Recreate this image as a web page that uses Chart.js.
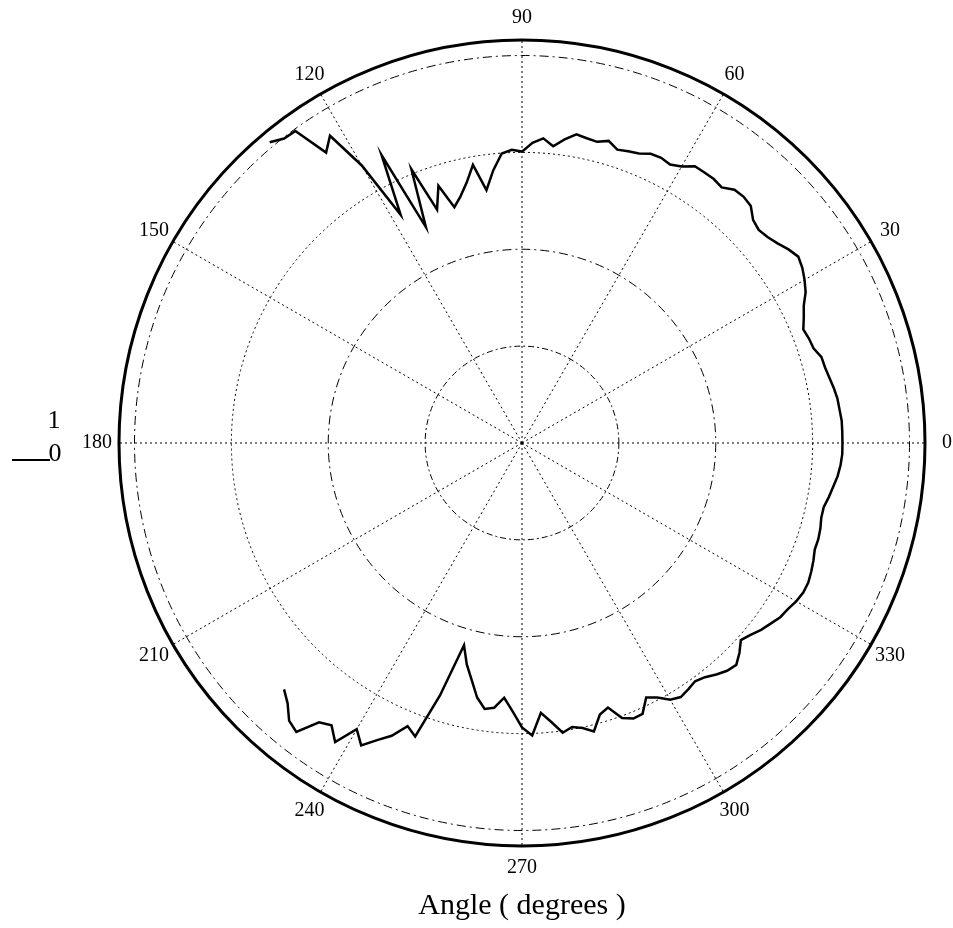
<!DOCTYPE html>
<html>
<head>
<meta charset="utf-8">
<script src="https://cdn.jsdelivr.net/npm/chart.js@4"></script>
<style>
  body { margin: 0; background: #fff; }
</style>
</head>
<body>
<canvas id="polar-chart" width="953" height="928"></canvas>
<script>
// polar response, radius normalised so the 4th ring = 1
const step = 2;
const angleTicks = [0, 30, 60, 90, 120, 150, 180, 210, 240, 270, 300, 330];
const ringValues = [0, 0.25, 0.5, 0.75, 1, 1.04];

// 0 .. 130 deg
const upperArc = [
    0.827, 0.827, 0.827, 0.824, 0.822, 0.817, 0.811, 0.806, 0.804, 0.791,
    0.788, 0.783, 0.796, 0.809, 0.829, 0.842, 0.853, 0.860, 0.850, 0.837,
    0.827, 0.822, 0.829, 0.850, 0.855, 0.853, 0.837, 0.842, 0.842, 0.842,
    0.824, 0.814, 0.819, 0.817, 0.806, 0.801, 0.796, 0.811, 0.801, 0.804,
    0.809, 0.791, 0.770, 0.788, 0.775, 0.752, 0.757, 0.749, 0.708, 0.659,
    0.729, 0.687, 0.656, 0.633, 0.698, 0.641, 0.762, 0.610, 0.827, 0.667,
    0.827, 0.935, 0.904, 0.995, 0.997, 1.013
];
const upperStart = 0;

// 226 .. 358 deg
const lowerArc = [
    0.884, 0.904, 0.935, 0.946, 0.891, 0.879, 0.910, 0.853, 0.884, 0.853,
    0.827, 0.788, 0.806, 0.685, 0.543, 0.589, 0.625, 0.667, 0.693, 0.687,
    0.659, 0.693, 0.734, 0.755, 0.698, 0.724, 0.755, 0.744, 0.752, 0.767,
    0.729, 0.718, 0.755, 0.767, 0.765, 0.731, 0.744, 0.765, 0.773, 0.767,
    0.760, 0.767, 0.780, 0.791, 0.796, 0.780, 0.760, 0.770, 0.783, 0.793,
    0.804, 0.809, 0.817, 0.822, 0.822, 0.817, 0.811, 0.804, 0.804, 0.801,
    0.796, 0.796, 0.804, 0.811, 0.819, 0.824, 0.827
];
const lowerStart = 226;

function radiusAt(deg) {
    const i = (deg - upperStart) / step;
    if (i >= 0 && i < upperArc.length) return upperArc[i];
    const j = (deg - lowerStart) / step;
    if (j >= 0 && j < lowerArc.length) return lowerArc[j];
    return null;
}

// radar goes clockwise, so walk the angles backwards to get 0 at the right, counter-clockwise
const count = 360 / step;
const labels = [];
const values = [];
for (let i = 0; i < count; i++) {
    const deg = (360 - i * step) % 360;
    labels.push(deg);
    values.push(radiusAt(deg));
}

function indexOfAngle(deg) {
    return ((360 - deg) % 360) / step;
}

const serif = '"Liberation Serif", "Times New Roman", serif';

const ringDash = [[], [6, 3, 2, 3], [9, 4, 2, 4], [2, 3], [9, 4, 2, 4], []];

const polarText = {
    id: 'polarText',
    afterDraw(chart) {
        const r = chart.scales.r;
        const ctx = chart.ctx;
        ctx.save();
        ctx.fillStyle = '#000';
        ctx.strokeStyle = '#000';
        ctx.textAlign = 'center';
        ctx.textBaseline = 'middle';
        ctx.font = '20px ' + serif;
        angleTicks.forEach(a => {
            const p = r.getPointPosition(indexOfAngle(a), r.drawingArea + 22);
            ctx.fillText(String(a), p.x, p.y);
        });
        // little scale marker on the left
        ctx.font = '26px ' + serif;
        ctx.fillText('1', 54, 421);
        ctx.fillText('0', 55, 454);
        ctx.lineWidth = 2;
        ctx.beginPath();
        ctx.moveTo(12, 460);
        ctx.lineTo(50, 460);
        ctx.stroke();
        ctx.restore();
    }
};

const ctx = document.getElementById('polar-chart').getContext('2d');
new Chart(ctx, {
    type: 'radar',
    data: {
        labels: labels,
        datasets: [{
            label: 'Response',
            data: values,
            borderColor: '#000',
            borderWidth: 2.5,
            pointRadius: 0,
            fill: false,
            tension: 0,
            spanGaps: false
        }]
    },
    options: {
        responsive: false,
        animation: false,
        layout: {
            padding: { left: 119, right: 28, top: 40, bottom: 4 }
        },
        plugins: {
            legend: { display: false },
            tooltip: { enabled: false },
            title: {
                display: true,
                position: 'bottom',
                text: 'Angle ( degrees )',
                color: '#000',
                font: { family: serif, size: 30, weight: 'normal' },
                padding: { top: 42, bottom: 0 }
            }
        },
        scales: {
            r: {
                min: 0,
                max: 1.04,
                startAngle: 90,
                afterBuildTicks: scale => {
                    scale.ticks = ringValues.map(v => ({ value: v }));
                },
                ticks: { display: false },
                pointLabels: { display: false },
                grid: {
                    circular: true,
                    color: '#000',
                    lineWidth: c => (c.index === ringValues.length - 1 ? 3 : 1)
                },
                border: {
                    dash: c => ringDash[c.index] || []
                },
                angleLines: {
                    color: '#000',
                    lineWidth: c => (c.label % 30 === 0 ? 1 : 0),
                    borderDash: [2, 3]
                }
            }
        }
    },
    plugins: [polarText]
});
</script>
</body>
</html>
